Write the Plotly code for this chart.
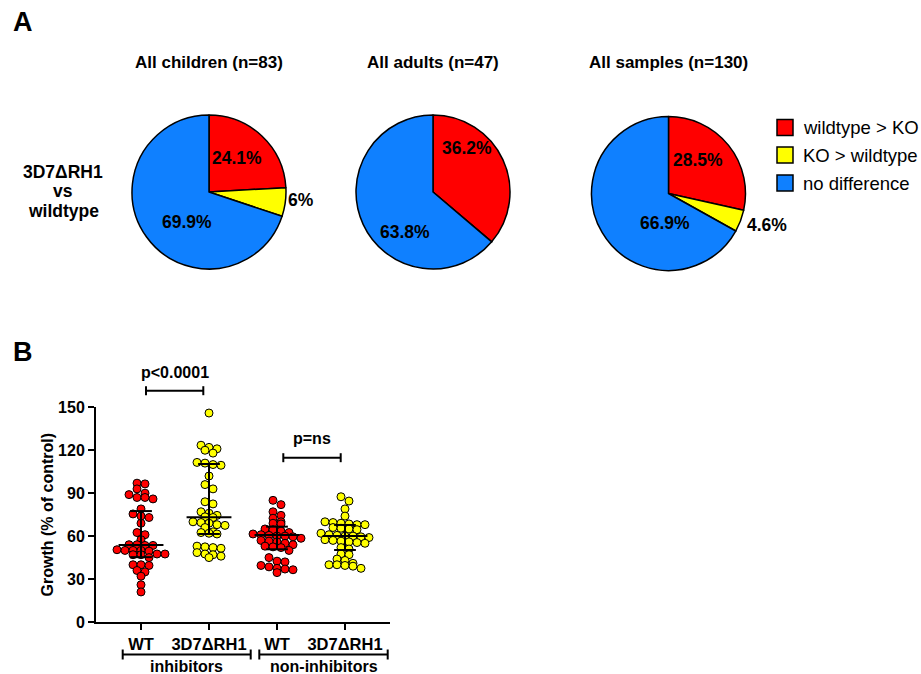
import numpy as np
import plotly.graph_objects as go

W, H = 921, 674
FONT = "Arial, Liberation Sans, sans-serif"

# ---------------- Panel A: pie charts ----------------
slice_labels = ["wildtype > KO", "KO > wildtype", "no difference"]
slice_colors = ["#FF0000", "#FFFF00", "#0F80FF"]
pie_titles = ["All children (n=83)", "All adults (n=47)", "All samples (n=130)"]
children_pct = [24.1, 6.0, 69.9]
adults_pct = [36.2, 0.0, 63.8]
samples_pct = [28.5, 4.6, 66.9]
row_label = ["3D7ΔRH1", "vs", "wildtype"]

# ---------------- Panel B: growth scatter ----------------
group_ticks = ["WT", "3D7ΔRH1", "WT", "3D7ΔRH1"]
group_sets = ["inhibitors", "non-inhibitors"]
wt_inhib = [97, 96.5, 93, 90, 89, 87, 87, 86, 79, 75.5, 74, 73, 69, 62.5, 61,
            57.5, 54, 54, 53.5, 53.5, 50.5, 50, 50, 50, 49.5, 47.5, 47.5, 47,
            47, 45, 40, 40, 39.5, 36, 35, 32, 26, 21]
ko_inhib = [146, 123.5, 122, 121, 120, 118, 111.5, 111, 110, 109.5, 102, 96,
            93, 84, 82.5, 77, 76, 74.5, 73.5, 73, 70, 69.5, 69, 68, 67.5, 66,
            63, 62.5, 62, 61.5, 53, 52.5, 52, 51.5, 48.5, 47.5, 47, 46, 45]
wt_noninhib = [85, 82, 77, 74.5, 72.5, 70, 69, 68.5, 65, 64.5, 63.5, 62.5,
               61.5, 61, 60.5, 60, 60, 59.5, 58.5, 57, 56.5, 56, 55, 54, 53,
               52.5, 52, 50, 45, 42.5, 42, 39.5, 38.5, 37.5, 37, 36.5, 34.5]
ko_noninhib = [87.5, 84.5, 79, 74, 70, 69.5, 69, 68.5, 68, 68, 66, 65.5, 65,
               64.5, 62, 61, 60.5, 60, 60, 59.5, 59, 57.5, 57, 56.5, 56, 55.5,
               55, 52, 51, 47.5, 47, 44, 43, 41, 40, 40, 39.5, 39, 37.5]
medians = [53.8, 73.1, 60.8, 60.0]
q1 = [45.3, 61.5, 50.8, 50.3]
q3 = [77.5, 110.3, 66.6, 67.8]
p_labels = ["p<0.0001", "p=ns"]
y_ticks = [0, 30, 60, 90, 120, 150]

group_values = [wt_inhib, ko_inhib, wt_noninhib, ko_noninhib]
group_colors = ["#FF0000", "#FFFF00", "#FF0000", "#FFFF00"]


def px_x(p):
    return p / W


def px_y(p):
    return 1 - p / H


# scatter subplot geometry (pixels)
ax_left, ax_right = 96, 390
ax_bottom, ax_top = 622, 407.3
x_range = [-0.662, 3.662]
y_range = [0, 150]
x_px_per_unit = (ax_right - ax_left) / (x_range[1] - x_range[0])
y_px_per_unit = (ax_bottom - ax_top) / (y_range[1] - y_range[0])


def row_offsets(vals, spacing=8.0, row_h=4.3):
    """Scatter-dot layout: values that fall within one row height share a
    row and are spread symmetrically around the column centre (pixels)."""
    v = np.asarray(vals, dtype=float)
    order = np.argsort(-v, kind="stable")
    xs = np.zeros(len(v))
    rows, cur = [], [order[0]]
    for i in order[1:]:
        if (v[cur[0]] - v[i]) * y_px_per_unit < row_h:
            cur.append(i)
        else:
            rows.append(cur)
            cur = [i]
    rows.append(cur)
    for r in rows:
        n = len(r)
        for k, i in enumerate(r):
            xs[i] = (k - (n - 1) / 2) * spacing
    return xs


fig = go.Figure()

# pies (slice labels are placed as annotations below)
pie_centers = [(209, 192), (433, 192), (668.5, 193.5)]
pie_r = 77
pie_values = [children_pct, adults_pct, samples_pct]
for k, vals in enumerate(pie_values):
    cx, cy = pie_centers[k]
    fig.add_trace(go.Pie(
        values=vals, labels=slice_labels, sort=False, direction="clockwise",
        rotation=0, textinfo="none",
        marker=dict(colors=slice_colors, line=dict(color="black", width=1.5)),
        domain=dict(x=[px_x(cx - pie_r), px_x(cx + pie_r)],
                    y=[px_y(cy + pie_r), px_y(cy - pie_r)]),
        showlegend=False, hoverinfo="skip",
    ))

# scatter dots
for g, vals in enumerate(group_values):
    offs = row_offsets(vals) / x_px_per_unit
    fig.add_trace(go.Scatter(
        x=g + offs, y=vals, mode="markers",
        marker=dict(size=8, color=group_colors[g],
                    line=dict(color="black", width=1)),
        showlegend=False, hoverinfo="skip", cliponaxis=False,
    ))

# median and interquartile range bars
cap_hw, med_hw = 0.16, 0.33
for g in range(4):
    xs = [g, g, None, g - cap_hw, g + cap_hw, None, g - cap_hw, g + cap_hw,
          None, g - med_hw, g + med_hw]
    ys = [q1[g], q3[g], None, q3[g], q3[g], None, q1[g], q1[g], None,
          medians[g], medians[g]]
    fig.add_trace(go.Scatter(
        x=xs, y=ys, mode="lines", line=dict(color="black", width=2),
        showlegend=False, hoverinfo="skip",
    ))

shapes = []
annotations = []


def hline_bracket(x0, x1, y, cap):
    shapes.append(dict(type="line", xref="paper", yref="paper",
                       x0=px_x(x0), x1=px_x(x1), y0=px_y(y), y1=px_y(y),
                       line=dict(color="black", width=2)))
    for xx in (x0, x1):
        shapes.append(dict(type="line", xref="paper", yref="paper",
                           x0=px_x(xx), x1=px_x(xx), y0=px_y(y - cap),
                           y1=px_y(y + cap),
                           line=dict(color="black", width=2)))


def text(s, x, y, size, bold=True, xanchor="center", yanchor="middle"):
    annotations.append(dict(
        text=s, x=px_x(x), y=px_y(y), xref="paper", yref="paper",
        showarrow=False, xanchor=xanchor, yanchor=yanchor,
        font=dict(family=FONT, size=size, color="black",
                  weight="bold" if bold else "normal")))


# percentage labels on the pies: (dx, dy, anchor) from each pie centre
label_spots = [
    [(28, -34, "center"), (77, 8, "left"), (-22, 30, "center")],
    [(34, -44, "center"), None, (-28, 40, "center")],
    [(29.5, -33.5, "center"), (76.5, 31, "left"), (-3.5, 29.5, "center")],
]
for k, vals in enumerate(pie_values):
    cx, cy = pie_centers[k]
    for j, v in enumerate(vals):
        spot = label_spots[k][j]
        if v <= 0 or spot is None:
            continue
        dx, dy, anc = spot
        text(f"{v:g}%", cx + dx, cy + dy, 17.5, xanchor=anc)

# panel letters
text("A", 11, 22, 27, xanchor="left")
text("B", 11, 352, 27, xanchor="left")

# pie titles
for k, t in enumerate(pie_titles):
    text(t, pie_centers[k][0], 63, 17)

# row label
for i, s in enumerate(row_label):
    text(s, 63, 172 + 19.3 * i, 17.5)

# legend
leg_y = [127.5, 155, 183]
for i, lab in enumerate(slice_labels):
    shapes.append(dict(type="rect", xref="paper", yref="paper",
                       x0=px_x(777), x1=px_x(793),
                       y0=px_y(leg_y[i] + 8), y1=px_y(leg_y[i] - 8),
                       fillcolor=slice_colors[i],
                       line=dict(color="black", width=1.5)))
    text(lab, 801, leg_y[i], 18.5, bold=False, xanchor="left")

# significance brackets
hline_bracket(146, 203.3, 390.7, 4.5)
text(p_labels[0], 174.7, 373, 16)
hline_bracket(283.3, 340.7, 457.7, 4.5)
text(p_labels[1], 312, 438.5, 16)

# group brackets under the axis
hline_bracket(122.7, 250.7, 654.5, 5)
text(group_sets[0], 186.6, 656, 16, yanchor="top")
hline_bracket(259.3, 387.7, 654.5, 5)
text(group_sets[1], 324, 656, 16, yanchor="top")

# y-axis title
annotations.append(dict(
    text="Growth (% of control)", x=px_x(47), y=px_y(514.5), xref="paper",
    yref="paper", showarrow=False, textangle=-90, xanchor="center",
    yanchor="middle",
    font=dict(family=FONT, size=16, color="black", weight="bold")))

fig.update_layout(
    width=W, height=H,
    margin=dict(l=0, r=0, t=0, b=0, autoexpand=False),
    paper_bgcolor="white", plot_bgcolor="white",
    shapes=shapes, annotations=annotations,
    xaxis=dict(domain=[px_x(ax_left), px_x(ax_right)], range=x_range,
               showgrid=False, zeroline=False, showline=True,
               linecolor="black", linewidth=2, ticks="outside", ticklen=6,
               tickwidth=2, tickcolor="black", tickvals=[0, 1, 2, 3],
               ticktext=group_ticks, automargin=False,
               tickfont=dict(family=FONT, size=16.5, color="black",
                             weight="bold")),
    yaxis=dict(domain=[px_y(ax_bottom), px_y(ax_top)], range=y_range,
               showgrid=False, zeroline=False, showline=True,
               linecolor="black", linewidth=2, ticks="outside", ticklen=6,
               tickwidth=2, tickcolor="black", tickvals=y_ticks,
               automargin=False,
               tickfont=dict(family=FONT, size=16, color="black",
                             weight="bold")),
)

fig.write_html("out.html")
